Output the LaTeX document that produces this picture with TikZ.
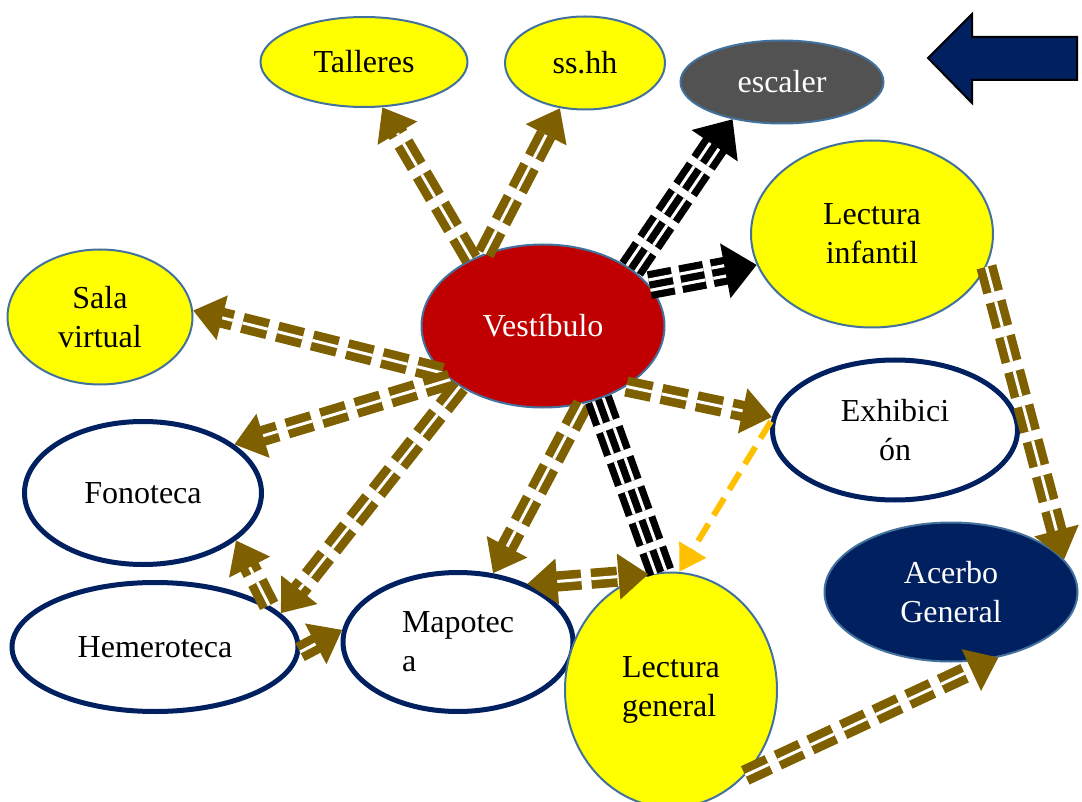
\documentclass[tikz,border=0pt]{standalone}
\usepackage{fontspec}
\setmainfont{Liberation Serif}
\usetikzlibrary{arrows.meta,shapes.geometric}
\definecolor{roomyellow}{HTML}{FFFF00}
\definecolor{vestred}{HTML}{C00000}
\definecolor{escgrey}{HTML}{525252}
\definecolor{navy}{HTML}{002060}
\definecolor{edgeblue}{HTML}{41719C}
\definecolor{flowbrown}{HTML}{7F6000}
\definecolor{floworange}{HTML}{FFC000}

\begin{document}
\begin{tikzpicture}[x=0.5pt, y=-0.5pt, font=\fontsize{16}{19.5}\selectfont,
  room/.style={ellipse, inner sep=0pt, align=center},
  yel/.style={room, draw=edgeblue, line width=1pt, fill=roomyellow},
  wht/.style={room, draw=navy, line width=2.5pt, fill=white},
  brn/.style={draw=flowbrown, line width=4.3pt, double=white, double distance=1.5pt, dash pattern=on 13pt off 5pt, -{Triangle[length=15pt,width=22pt]}},
  blk/.style={draw=black, line width=3.6pt, double=white, double distance=6.8pt, dash pattern=on 12pt off 4pt, -{Triangle[length=16pt,width=27pt]}},
  blkmid/.style={draw=black, line width=3.6pt, dash pattern=on 12pt off 4pt, shorten >=12pt},
  org/.style={draw=floworange, line width=3pt, dash pattern=on 10pt off 5pt, -{Triangle[length=13pt,width=15pt]}}]
  \useasboundingbox (0,0) rectangle (1082,802);

  % rooms
  \node[yel, minimum width=103.5pt, minimum height=45pt] (tall) at (364,62) {Talleres};
  \node[yel, minimum width=80pt, minimum height=46.5pt] (sshh) at (585,63) {ss.hh};
  \node[room, draw=edgeblue, line width=1pt, fill=escgrey, text=white, minimum width=101.5pt, minimum height=41.5pt] (esc) at (782,82) {escaler};
  \node[yel, minimum width=121pt, minimum height=93.5pt] (linf) at (872,234) {Lectura\\infantil};
  \node[yel, minimum width=92.5pt, minimum height=67.5pt] (sala) at (100,317) {Sala\\virtual};
  \node[room, draw=edgeblue, line width=1pt, fill=vestred, text=white, minimum width=121.5pt, minimum height=81.5pt] (vest) at (543,326) {Vestíbulo};
  \node[wht, minimum width=122.5pt, minimum height=70pt] (exhi) at (895,430) {Exhibici\\ón};
  \node[wht, minimum width=118.5pt, minimum height=71.5pt] (fono) at (143,493) {Fonoteca};
  \node[wht, minimum width=143pt, minimum height=64.5pt] (heme) at (155,647) {Hemeroteca};
  \node[wht, minimum width=115pt, minimum height=69.5pt, align=left] (mapo) at (458,642) {Mapotec\\a};
  \node[yel, minimum width=106pt, minimum height=117.5pt, align=left] (lgen) at (671,690) {Lectura\\general};
  \node[room, draw=edgeblue, line width=1pt, fill=navy, text=white, minimum width=126.5pt, minimum height=69.5pt] (acer) at (951,592) {Acerbo\\General};

  % back arrow
  \draw[line width=1pt, fill=navy] (1077,37) -- (972,37) -- (972,14) -- (928,58) -- (972,103) -- (972,80) -- (1077,80) -- cycle;

  % flows
  \draw[brn] (vest.137) -- (tall.292);
  \draw[brn] (vest.129) -- (sshh.241);
  \draw[blk] (vest.33) -- (esc.217);
  \draw[blkmid] (vest.33) -- (esc.217);
  \draw[blk] (vest.21) -- (linf.195);
  \draw[blkmid] (vest.21) -- (linf.195);
  \draw[brn] (vest.205) -- (sala.4);
  \draw[brn] (vest.210) -- (fono.28);
  \draw[brn] (vest.216) -- (heme.15);
  \draw[brn] (vest.297) -- (mapo.63);
  \draw[brn] (vest.324) -- (exhi.174);
  \draw[blk, -] (vest.307) -- (lgen.95);
  \draw[blkmid, shorten >=0pt] (vest.307) -- (lgen.95);
  \draw[brn, {Triangle[length=15pt,width=22pt]}-{Triangle[length=15pt,width=22pt]}] (mapo.40) -- (lgen.101);
  \draw[brn] (heme.358) -- (mapo.174);
  \draw[brn] (heme.20) -- (fono.333);
  \draw[org] (exhi.176) -- (lgen.86);
  \draw[brn] (linf.344) -- (acer.16);
  \draw[brn] (lgen.311) -- (acer.306);
\end{tikzpicture}
\end{document}
